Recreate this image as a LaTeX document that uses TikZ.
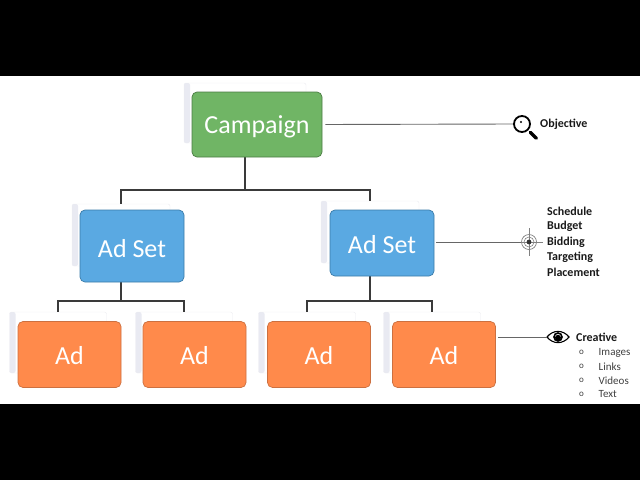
\documentclass[tikz,border=0pt]{standalone}
\usepackage{fontspec}
\setmainfont{Carlito}
\definecolor{campgreen}{HTML}{70B565}
\definecolor{campedge}{HTML}{4B7C43}
\definecolor{setblue}{HTML}{5AA9E2}
\definecolor{setedge}{HTML}{3A7BA8}
\definecolor{adorange}{HTML}{FF8A4B}
\definecolor{adedge}{HTML}{CC7040}
\definecolor{backside}{HTML}{E9EAF2}
\definecolor{backedge}{HTML}{ECECF1}
\definecolor{linkgray}{HTML}{3A3A3A}
\tikzset{
	backbox/.style={draw=backedge,fill=white,rounded corners=2pt,inner sep=0pt,
		path picture={\fill[backside] (path picture bounding box.north west) rectangle
			([xshift=6pt]path picture bounding box.south west);}},
	mainbox/.style={draw=#1,line width=.7pt,rounded corners=5pt,inner sep=0pt,text=white,
		font=\fontsize{26}{30}\selectfont},
	treeline/.style={draw=linkgray,line width=1.05pt},
	sideline/.style={draw=black!60,line width=.9pt},
	sidetext/.style={font=\bfseries\fontsize{12}{14}\selectfont,anchor=west,inner sep=0pt,text=black!90},
	listtext/.style={font=\fontsize{11}{13}\selectfont,anchor=west,inner sep=0pt,text=black!75},
	listmark/.style={font=\fontsize{9}{11}\selectfont,anchor=west,inner sep=0pt,text=black!75}
}
\begin{document}
\begin{tikzpicture}[x=1pt,y=-1pt]
	\useasboundingbox (0,0) rectangle (640,480);
	\fill[black] (0,0) rectangle (640,76);
	\fill[black] (0,404) rectangle (640,480);
	% boxes behind
	\node[backbox,minimum width=122pt,minimum height=60pt] (campback) at (245,113) {};
	\foreach \name/\x/\y in {setbackA/121/235,setbackB/370/232}
		{\node[backbox,minimum width=98pt,minimum height=62pt] (\name) at (\x,\y) {};}
	\foreach \name/\x in {adbackA/58,adbackB/184,adbackC/307,adbackD/432}
		{\node[backbox,minimum width=97pt,minimum height=61pt] (\name) at (\x,342.5) {};}
	% tree lines
	\coordinate (busA) at (245,190);
	\coordinate (busB) at (121,301);
	\coordinate (busC) at (370,301);
	\draw[treeline] (campback.south) -- (busA);
	\draw[treeline] (setbackA.north) |- (busA) -| (setbackB.north);
	\draw[treeline] (setbackA.south) -- (busB);
	\draw[treeline] (setbackB.south) -- (busC);
	\draw[treeline] (adbackA.north) |- (busB) -| (adbackB.north);
	\draw[treeline] (adbackC.north) |- (busC) -| (adbackD.north);
	% boxes in front
	\node[mainbox=campedge,fill=campgreen,minimum width=130pt,minimum height=65pt,text height=24pt,text depth=6pt] (campaign) at (257,124.5) {Campaign};
	\node[mainbox=setedge,fill=setblue,minimum width=104pt,minimum height=72pt,text height=23pt,text depth=0pt] (setA) at (132,246) {Ad Set};
	\node[mainbox=setedge,fill=setblue,minimum width=104pt,minimum height=66pt,text height=21pt,text depth=0pt] (setB) at (382,243) {Ad Set};
	\foreach \name/\x in {adA/69.5,adB/194.5,adC/319,adD/444}
		{\node[mainbox=adedge,fill=adorange,minimum width=103pt,minimum height=66pt,text height=19pt,text depth=0pt] (\name) at (\x,354.5) {Ad};}
	% icons
	\node[circle,draw=black,line width=1.8pt,minimum size=16pt,inner sep=0pt] (lens) at (522,124) {};
	\fill (lens) ++(-1,-2) circle (1.2pt);
	\draw[line width=3.4pt,line cap=round] (lens.south east) ++(2,2) -- ++(6,6);
	\node[circle,draw=gray,line width=.7pt,minimum size=15pt,inner sep=0pt] (target) at (529,242) {};
	\draw[gray,line width=.6pt] (target.center) ++(-14,0) -- ++(28,0) (target.center) ++(0,-14) -- ++(0,28);
	\draw[gray,line width=.6pt] (target) circle (5pt);
	\fill[black!80] (target) circle (2.4pt);
	\coordinate (eye) at (558,337);
	\draw[line width=1.1pt] (eye) +(-11,0) .. controls +(6,-7.5) and +(-6,-7.5) .. +(11,0)
		.. controls +(-6,7.5) and +(6,7.5) .. +(-11,0);
	\draw[line width=1.6pt,fill=white] (eye) circle (4pt);
	\fill (eye) ++(0,.8) circle (3pt);
	% side lines
	\coordinate (adtap) at (adD.east |- eye);
	\draw[sideline,shorten <=3pt] (campaign.east) -- (lens.west);
	\draw[sideline,shorten <=2pt] (setB.east |- target) -- (target.west);
	\draw[sideline,shorten <=2pt] (adtap) -- ([xshift=-11pt]eye);
	% side texts
	\node[sidetext] (objective) at (540,124) {Objective};
	\foreach \name/\txt/\y in {schedule/Schedule/211.5,budget/Budget/226.5,bidding/Bidding/242,targeting/Targeting/257,placement/Placement/272}
		{\node[sidetext] (\name) at (547,\y) {\txt};}
	\node[sidetext] (creative) at (576,337) {Creative};
	\foreach \name/\txt/\y in {images/Images/352.5,links/Links/366.5,videos/Videos/380.5,adtext/Text/394}
		{\node[listtext] (\name) at (598.5,\y) {\txt};
		\node[listmark] (\name mark) at (579,\y) {o};}
\end{tikzpicture}
\end{document}
